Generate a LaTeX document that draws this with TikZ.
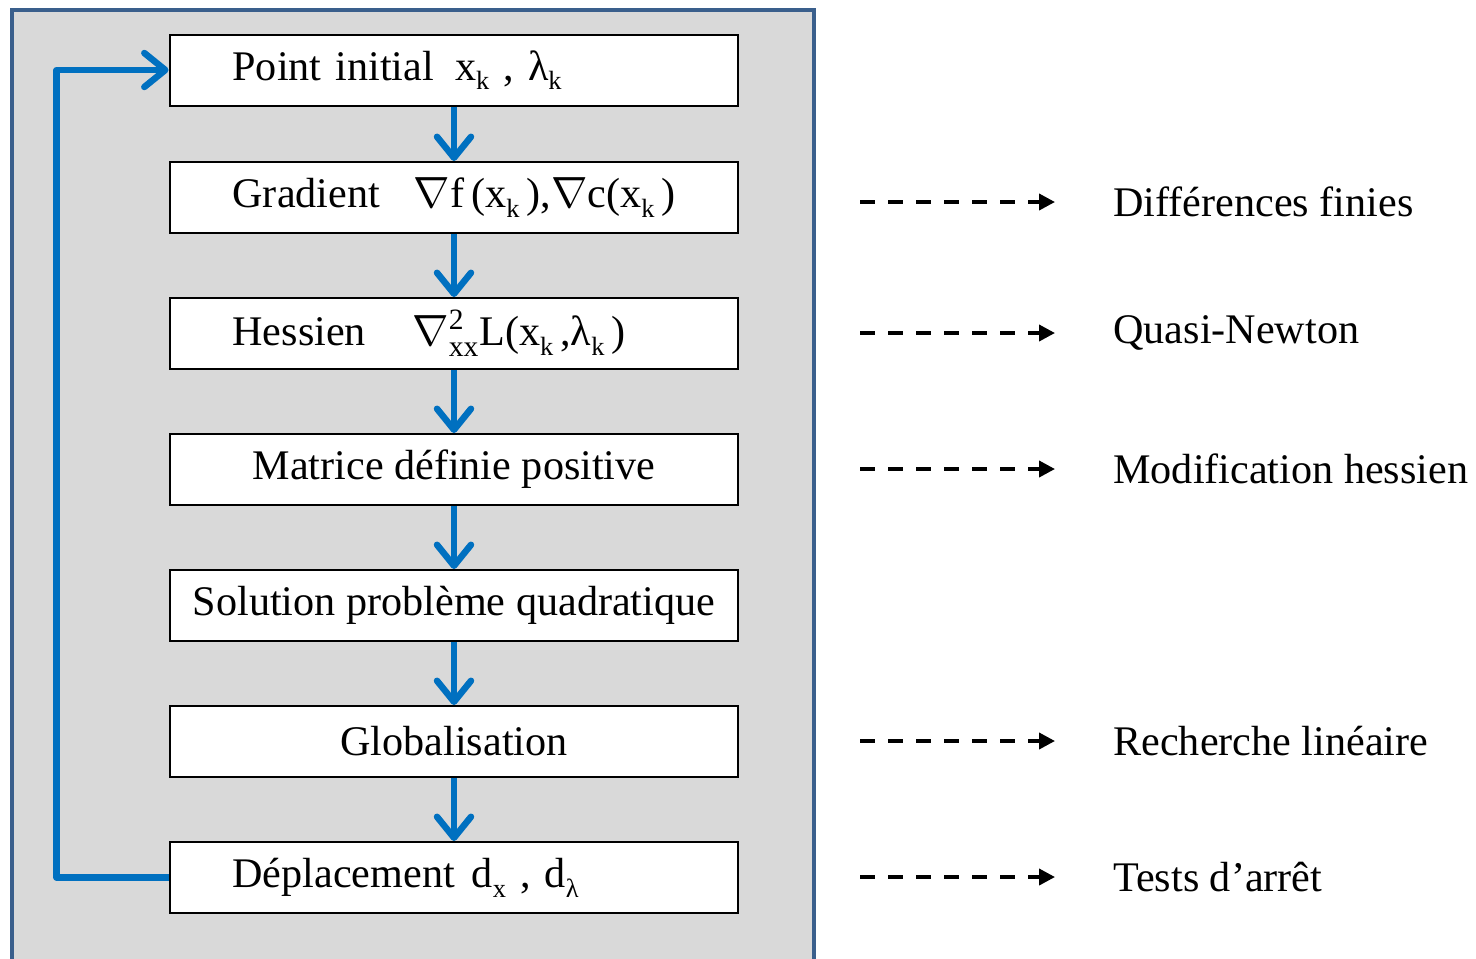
\documentclass[tikz,border=0pt]{standalone}
\usepackage{fontspec}
\setmainfont{Liberation Serif}
\usetikzlibrary{arrows.meta}

\definecolor{bleuSQP}{RGB}{0,112,192}
\definecolor{bordcadre}{RGB}{58,95,140}
\definecolor{fondcadre}{RGB}{217,217,217}

\newcommand{\ind}[1]{\raisebox{-0.5ex}{\fontsize{15}{15}\selectfont #1}}

\tikzset{
  etape/.style={draw=black, line width=0.04cm, fill=white, minimum width=11.38cm,
    minimum height=1.42cm, inner sep=0pt, font=\fontsize{24}{28}\selectfont},
  etapeg/.style={etape, text width=8.86cm, align=left},
  fleche/.style={draw=bleuSQP, line width=0.13cm, line join=round,
    -{Straight Barb[length=0.42cm,width=0.68cm,round]}},
  pointille/.style={line width=0.075cm, dash pattern=on 0.3cm off 0.26cm,
    -{Triangle[length=0.32cm,width=0.32cm]}},
  remarque/.style={anchor=west, inner sep=0pt, font=\fontsize{24}{28}\selectfont},
}

\begin{document}
\begin{tikzpicture}[x=0.02cm, y=-0.02cm]
  \useasboundingbox (0,0) rectangle (1476,958);
  % cadre gris
  \draw[draw=bordcadre, fill=fondcadre, line width=0.08cm] (12,10) rectangle (814,990);

  % etapes de l'algorithme
  \node[etapeg] (b1) at (454,70)    {Point initial\hspace{0.5em}x\ind{k} , λ\ind{k}};
  \node[etapeg] (b2) at (454,197.5) {\mbox{Gradient\hspace{0.8em}$\nabla$f\,(x\ind{k}\,),$\nabla$c(x\ind{k}\,)}};
  \node[etapeg] (b3) at (454,333.5) {Hessien\hspace{1.1em}$\nabla^{\mathrm{2}}_{\mathrm{xx}}$L(x\ind{k}\,,λ\ind{k}\,)};
  \node[etape]  (b4) at (454,469.5) {Matrice définie positive};
  \node[etape]  (b5) at (454,605.5) {Solution problème quadratique};
  \node[etape]  (b6) at (454,741.5) {Globalisation};
  \node[etapeg] (b7) at (454,877.5) {Déplacement\hspace{0.4em}d\ind{x} , d\ind{λ}};

  \foreach \a/\b in {b1/b2, b2/b3, b3/b4, b4/b5, b5/b6, b6/b7}
    \draw[fleche] (\a) -- (\b);

  % boucle
  \draw[fleche] (b7.west) -- ++(-112,0) |- (b1.west);

  % methodes associees
  \node[remarque] (r2) at (1113,202) {Différences finies};
  \node[remarque] (r3) at (1113,333) {Quasi-Newton};
  \node[remarque] (r4) at (1113,469) {Modification hessien};
  \node[remarque] (r6) at (1113,741) {Recherche linéaire};
  \node[remarque] (r7) at (1113,877) {Tests d’arrêt};

  \foreach \r in {r2, r3, r4, r6, r7} {
    \coordinate (d\r) at ([xshift=-5.06cm]\r.west);
    \draw[pointille, shorten >=1.16cm] (d\r) -- (\r.west);
  }
\end{tikzpicture}
\end{document}
